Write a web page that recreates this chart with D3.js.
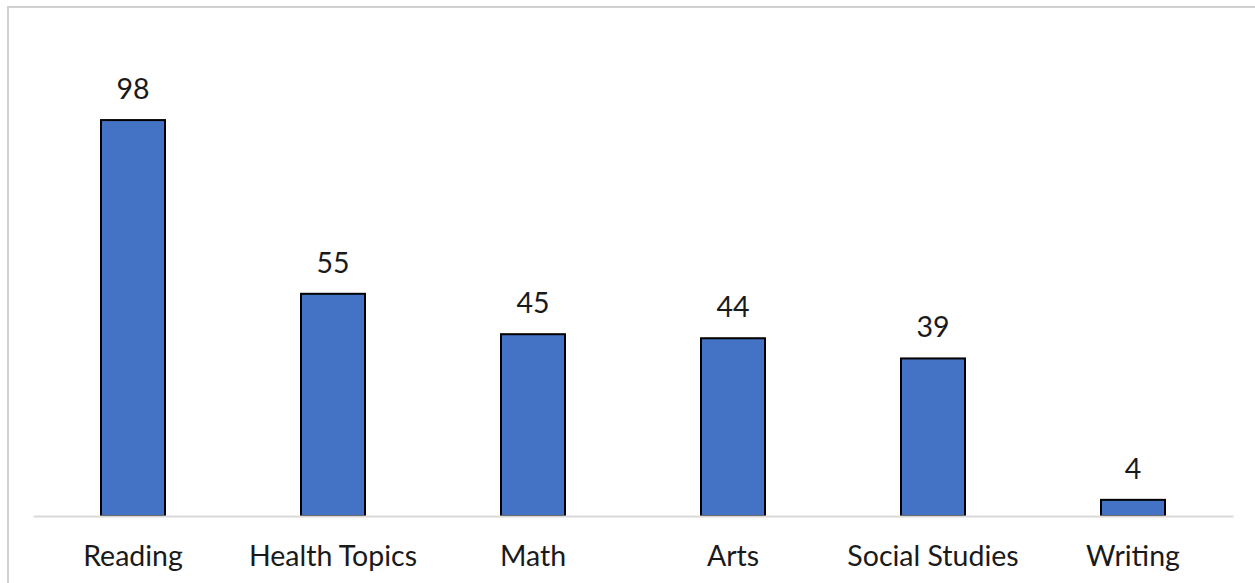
<!DOCTYPE html>
<html>
<head>
<meta charset="utf-8">
<script src="https://cdn.jsdelivr.net/npm/d3@7"></script>
<style>
  html, body { margin: 0; padding: 0; background: #ffffff; }
  svg { display: block; }
</style>
</head>
<body>
<div id="chart"></div>
<script>
// Subjects and the number of resources found for each
const categories = ["Reading", "Health Topics", "Math", "Arts", "Social Studies", "Writing"];
const values = [98, 55, 45, 44, 39, 4];

const width = 1255, height = 583;
const svg = d3.select("#chart").append("svg")
  .attr("width", width)
  .attr("height", height);

// Chart frame (extends past the right and bottom edges)
svg.append("rect")
  .attr("x", 8).attr("y", 7)
  .attr("width", 1300).attr("height", 700)
  .attr("fill", "none")
  .attr("stroke", "#d0d0d0")
  .attr("stroke-width", 2);

const x = d3.scaleBand()
  .domain(categories)
  .range([33, 1233])
  .paddingInner(0.68)
  .paddingOuter(0.34);

const y = d3.scaleLinear()
  .domain([0, 100])
  .range([516, 112]);

// Bars
svg.append("g").selectAll("rect")
  .data(categories)
  .join("rect")
  .attr("x", (d) => x(d))
  .attr("y", (d, i) => y(values[i]))
  .attr("width", x.bandwidth())
  .attr("height", (d, i) => y(0) - y(values[i]))
  .attr("fill", "#4472C4")
  .attr("stroke", "#000000")
  .attr("stroke-width", 2);

// Category axis
const xAxis = svg.append("g")
  .attr("transform", `translate(0,${y(0)})`)
  .call(d3.axisBottom(x).tickSize(0).tickPadding(30));
xAxis.select(".domain")
  .attr("stroke", "#d9d9d9")
  .attr("stroke-width", 2);
xAxis.selectAll("text")
  .attr("font-family", "Lato, 'Open Sans', sans-serif")
  .attr("font-size", 28.5)
  .attr("fill", "#1a1a1a");

// Value labels
svg.append("g").selectAll("text")
  .data(categories)
  .join("text")
  .attr("x", (d) => x(d) + x.bandwidth() / 2)
  .attr("y", (d, i) => y(values[i]) - 21)
  .attr("text-anchor", "middle")
  .attr("font-family", "Lato, 'Open Sans', sans-serif")
  .attr("font-size", 28.5)
  .attr("fill", "#1a1a1a")
  .text((d, i) => values[i]);
</script>
</body>
</html>
